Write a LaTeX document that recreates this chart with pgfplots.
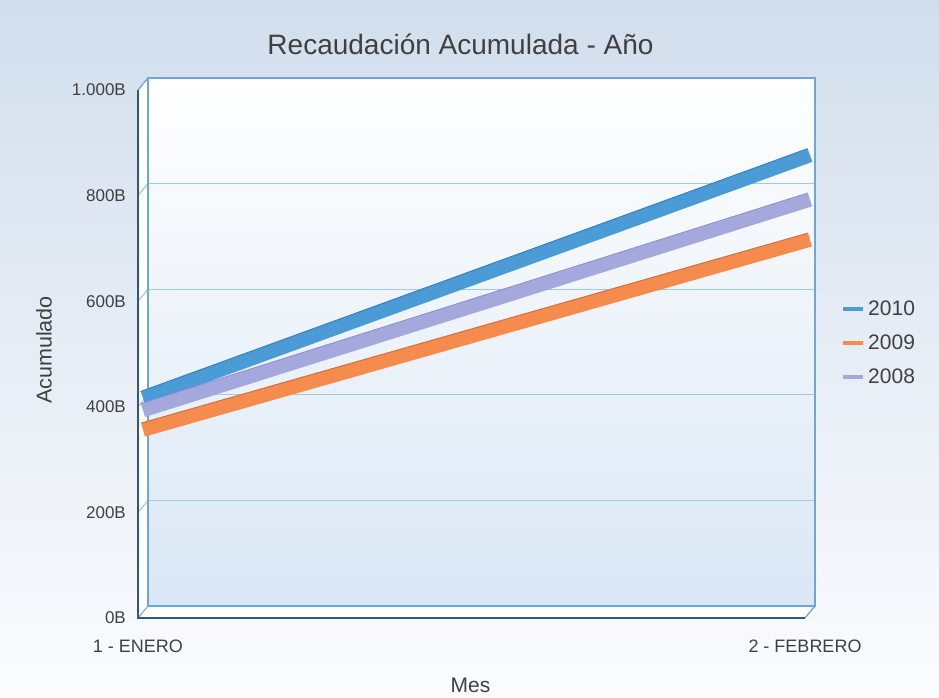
\documentclass[border=0pt]{standalone}
\usepackage{pgfplots}
\pgfplotsset{compat=1.18}
\usepackage{fontspec}
\setmainfont{Liberation Sans}
\definecolor{bgtop}{RGB}{210,222,237}
\definecolor{bgbot}{RGB}{251,252,254}
\definecolor{walltop}{RGB}{255,255,255}
\definecolor{wallbot}{RGB}{218,231,245}
\definecolor{wallborder}{RGB}{110,166,212}
\definecolor{gridc}{RGB}{160,200,233}
\definecolor{frontc}{RGB}{48,88,124}
\definecolor{c2010}{RGB}{74,155,214}
\definecolor{c2009}{RGB}{246,139,78}
\definecolor{c2008}{RGB}{165,168,220}
\definecolor{e2010}{RGB}{58,128,186}
\definecolor{e2009}{RGB}{214,112,58}
\definecolor{e2008}{RGB}{140,143,200}
\definecolor{txt}{RGB}{64,64,64}
\begin{document}
\begin{tikzpicture}[x=1pt,y=1pt]
\shade[top color=bgtop,bottom color=bgbot] (0,0) rectangle (939,698);
\begin{axis}[
  at={(138pt,80pt)}, anchor=south west,
  scale only axis, width=667pt, height=528pt,
  xmin=0, xmax=1, ymin=0, ymax=1000,
  clip=false,
  axis line style={draw=none},
  major tick length=0pt,
  xtick={0,1}, xticklabels={1 - ENERO, 2 - FEBRERO},
  ytick={0,200,400,600,800,1000},
  yticklabels={0B,200B,400B,600B,800B,1.000B},
  xticklabel style={font=\fontsize{18}{21}\selectfont, text=txt, inner sep=0pt, anchor=north, yshift=-22pt},
  yticklabel style={font=\fontsize{17}{20}\selectfont, text=txt, inner sep=0pt, anchor=east, xshift=-12pt},
  /pgf/number format/assume math mode=true,
  legend style={at={(1.054,0.521)}, anchor=west, draw=none, fill=none, inner sep=0pt,
    row sep=12pt, font=\fontsize{21}{25}\selectfont, text=txt, nodes={inner sep=3pt}},
  legend image code/.code={\draw[#1] (0pt,0pt) -- (20pt,0pt);},
  legend cell align=left,
]
% back wall
\shade[top color=walltop, bottom color=wallbot]
  ([xshift=10pt,yshift=12pt]axis cs:0,0) rectangle ([xshift=10pt,yshift=12pt]axis cs:1,1000);
% left wall and floor
\fill[white] (axis cs:0,0) -- (axis cs:0,1000) -- ([xshift=10pt,yshift=12pt]axis cs:0,1000) -- ([xshift=10pt,yshift=12pt]axis cs:0,0) -- cycle;
\fill[white] (axis cs:0,0) -- (axis cs:1,0) -- ([xshift=10pt,yshift=12pt]axis cs:1,0) -- ([xshift=10pt,yshift=12pt]axis cs:0,0) -- cycle;
% grid
\pgfplotsinvokeforeach{200,400,600,800}{
  \draw[gridc, line width=1.1pt] ([xshift=10pt,yshift=12pt]axis cs:0,#1) -- ([xshift=10pt,yshift=12pt]axis cs:1,#1);
  \draw[gridc, line width=1.1pt] (axis cs:0,#1) -- ([xshift=10pt,yshift=12pt]axis cs:0,#1);
}
% back wall border
\draw[wallborder, line width=1.3pt] ([xshift=10pt,yshift=12pt]axis cs:0,0) rectangle ([xshift=10pt,yshift=12pt]axis cs:1,1000);
\draw[wallborder, line width=1.3pt] (axis cs:0,1000) -- ([xshift=10pt,yshift=12pt]axis cs:0,1000);
\draw[wallborder, line width=1.3pt] (axis cs:1,0) -- ([xshift=10pt,yshift=12pt]axis cs:1,0);
\draw[wallborder, line width=1pt] (axis cs:0,0) -- ([xshift=10pt,yshift=12pt]axis cs:0,0);
% front axes
\draw[frontc, line width=1.4pt] (axis cs:0,1000) -- (axis cs:0,0) -- (axis cs:1,0);
% data ribbons
\addplot[c2010, line width=14pt, line cap=butt, shift={(5pt,6pt)}, forget plot] coordinates {(0,405) (1,865)};
\addplot[e2010, line width=1pt, line cap=butt, shift={(2.6pt,12.6pt)}, forget plot] coordinates {(0,405) (1,865)};
\addplot[c2009, line width=14pt, line cap=butt, shift={(5pt,6pt)}, forget plot] coordinates {(0,345) (1,705)};
\addplot[e2009, line width=1pt, line cap=butt, shift={(3.1pt,12.7pt)}, forget plot] coordinates {(0,345) (1,705)};
\addplot[c2008, line width=14pt, line cap=butt, shift={(5pt,6pt)}, forget plot] coordinates {(0,382) (1,781)};
\addplot[e2008, line width=0.8pt, line cap=butt, shift={(2.9pt,12.7pt)}, forget plot] coordinates {(0,382) (1,781)};
\addlegendimage{c2010, line width=4pt}
\addlegendentry{2010}
\addlegendimage{c2009, line width=4pt}
\addlegendentry{2009}
\addlegendimage{c2008, line width=4pt}
\addlegendentry{2008}
\end{axis}
\node[txt, font=\fontsize{28}{33}\selectfont, anchor=base] at (460.5,643) {Recaudación Acumulada - Año};
\node[txt, font=\fontsize{21.5}{25}\selectfont, anchor=base, rotate=90] at (51.5,348) {Acumulado};
\node[txt, font=\fontsize{21}{25}\selectfont, anchor=base] at (470.5,5) {Mes};
\pgfresetboundingbox
\path (0,0) rectangle (939,698);
\end{tikzpicture}
\end{document}
